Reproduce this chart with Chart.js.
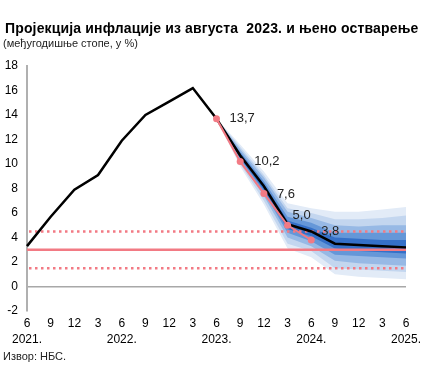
<!DOCTYPE html>
<html>
<head>
<meta charset="utf-8">
<script src="https://cdn.jsdelivr.net/npm/chart.js@4/dist/chart.umd.min.js"></script>
<style>
  body { margin: 0; background: #fff; font-family: "Liberation Sans", Arial, sans-serif; }
  #wrap { position: relative; width: 428px; height: 372px; }
  #chart { position: absolute; left: 0; top: 0; }
  .txt { position: absolute; white-space: pre; color: #000; }
  #title { left: 5px; top: 20px; font-size: 14px; font-weight: bold; letter-spacing: 0.15px; }
  #subtitle { left: 3px; top: 37px; font-size: 11px; color: #222; }
  #source { left: 3px; top: 350px; font-size: 11px; color: #222; }
</style>
</head>
<body>
<div id="wrap">
  <canvas id="chart" width="428" height="372"></canvas>
  <div class="txt" id="title">Пројекција инфлације из августа  2023. и њено остварење</div>
  <div class="txt" id="subtitle">(међугодишње стопе, у %)</div>
  <div class="txt" id="source">Извор: НБС.</div>
</div>
<script>

// quarters, jun 2021 - jun 2025
let months = ["6","9","12","3","6","9","12","3","6","9","12","3","6","9","12","3","6"];
let years = ["2021.","","","","2022.","","","","2023.","","","","2024.","","","","2025."];

// history + august 2023 projection (central)
let inflation = [3.3, 5.7, 7.9, 9.1, 11.9, 14.0, 15.1, 16.2, 13.7, 10.7, 8.2, 5.1, 4.5, 3.5, 3.4, 3.3, 3.2];

// realised values after the projection
let realised = [null, null, null, null, null, null, null, null, 13.7, 10.2, 7.6, 5.0, 3.8, null, null, null, null];

// fan edges (outer -> inner), from jun 2023 on
let pad = [null, null, null, null, null, null, null, null];
let up1 = pad.concat([13.7, 11.6, 9.4, 6.8, 6.4, 6.1, 6.1, 6.3, 6.5]);
let lo1 = pad.concat([13.7, 9.8, 6.7, 3.1, 2.4, 1.0, 0.8, 0.7, 0.6]);
let up2 = pad.concat([13.7, 11.4, 9.1, 6.4, 6.0, 5.5, 5.5, 5.6, 5.8]);
let lo2 = pad.concat([13.7, 10.0, 7.0, 3.5, 2.9, 1.5, 1.4, 1.3, 1.2]);
let up3 = pad.concat([13.7, 11.2, 8.9, 6.1, 5.6, 5.0, 4.9, 5.0, 5.0]);
let lo3 = pad.concat([13.7, 10.2, 7.4, 4.0, 3.3, 2.1, 1.9, 1.8, 1.7]);
let up4 = pad.concat([13.7, 11.0, 8.6, 5.7, 5.2, 4.4, 4.4, 4.4, 4.4]);
let lo4 = pad.concat([13.7, 10.4, 7.7, 4.4, 3.7, 2.6, 2.5, 2.4, 2.3]);
let up5 = pad.concat([13.7, 10.9, 8.4, 5.4, 4.8, 4.0, 3.9, 3.8, 3.8]);
let lo5 = pad.concat([13.7, 10.5, 7.9, 4.7, 4.1, 3.1, 2.9, 2.8, 2.7]);

// target and tolerance band
let target = [3];
let tolerance = [1.5, 4.5];

let fanColors = ["#e2ebf7", "#c3d6ef", "#97b9e5", "#6597d8", "#3570c8"];
let fanUp = [up1, up2, up3, up4, up5];
let fanLo = [lo1, lo2, lo3, lo4, lo5];

let labels = months.map((m, i) => years[i] ? [m, years[i]] : m);

let datasets = [
    {
        label: "realised",
        data: realised,
        borderColor: "#f27a84",
        backgroundColor: "#f27a84",
        borderWidth: 2,
        pointRadius: 3.5,
        pointBorderWidth: 0,
        order: 0
    },
    {
        label: "projection",
        data: inflation,
        borderColor: "#000",
        borderWidth: 2.5,
        pointRadius: 0,
        order: 1
    }
];

for (let k = 0; k < fanUp.length; k++) {
    let upIndex = datasets.length;
    datasets.push({
        data: fanUp[k],
        borderWidth: 0,
        pointRadius: 0,
        fill: false,
        order: 20 - k
    });
    datasets.push({
        data: fanLo[k],
        borderWidth: 0,
        pointRadius: 0,
        backgroundColor: fanColors[k],
        fill: { target: upIndex },
        order: 20 - k
    });
}

// label offsets for realised values
let labelShift = [[13, 0], [14, 0], [13, 1], [5, -10], [10, -9]];

let targetLines = {
    id: "targetLines",
    beforeDatasetDraw(chart, args) {
        if (args.index !== 1) return;
        let ctx = chart.ctx;
        let y = chart.scales.y;
        let area = chart.chartArea;
        ctx.save();
        ctx.strokeStyle = "#f27a84";
        ctx.lineWidth = 2.5;
        target.forEach(v => {
            let py = y.getPixelForValue(v);
            ctx.beginPath();
            ctx.moveTo(area.left, py);
            ctx.lineTo(area.right, py);
            ctx.stroke();
        });
        ctx.setLineDash([2.5, 3.5]);
        tolerance.forEach(v => {
            let py = y.getPixelForValue(v);
            ctx.beginPath();
            ctx.moveTo(area.left + 2, py);
            ctx.lineTo(area.right, py);
            ctx.stroke();
        });
        ctx.restore();
    }
};

let valueLabels = {
    id: "valueLabels",
    afterDatasetsDraw(chart) {
        let ctx = chart.ctx;
        let meta = chart.getDatasetMeta(0);
        ctx.save();
        ctx.font = "13px 'Liberation Sans', Arial, sans-serif";
        ctx.fillStyle = "#222";
        ctx.textBaseline = "middle";
        let n = 0;
        realised.forEach((v, i) => {
            if (v === null) return;
            let pt = meta.data[i];
            let s = labelShift[n++];
            ctx.fillText(v.toFixed(1).replace(".", ","), pt.x + s[0], pt.y + s[1]);
        });
        ctx.restore();
    }
};

new Chart(document.getElementById("chart"), {
    type: "line",
    data: { labels: labels, datasets: datasets },
    options: {
        responsive: false,
        animation: false,
        layout: { padding: { left: 0, right: 22, top: 66, bottom: 27.5 } },
        elements: { line: { tension: 0 } },
        plugins: {
            legend: { display: false },
            tooltip: { enabled: false },
            filler: { propagate: false }
        },
        scales: {
            x: {
                offset: false,
                grid: { display: false },
                border: { display: false },
                ticks: {
                    color: "#000",
                    padding: -3.5,
                    maxRotation: 0,
                    autoSkip: false,
                    font: { family: "'Liberation Sans', Arial, sans-serif", size: 12, lineHeight: 1.35 }
                }
            },
            y: {
                min: -2,
                max: 18,
                afterFit: s => { s.width = 27; },
                border: { display: true, color: "#b0b0b0", width: 2 },
                grid: {
                    drawTicks: false,
                    lineWidth: 1.5,
                    color: c => c.tick && c.tick.value === 0 ? "#a8a8a8" : "transparent"
                },
                ticks: {
                    stepSize: 2,
                    color: "#000",
                    padding: 9,
                    font: { family: "'Liberation Sans', Arial, sans-serif", size: 12 }
                }
            }
        }
    },
    plugins: [targetLines, valueLabels]
});

</script>
</body>
</html>
